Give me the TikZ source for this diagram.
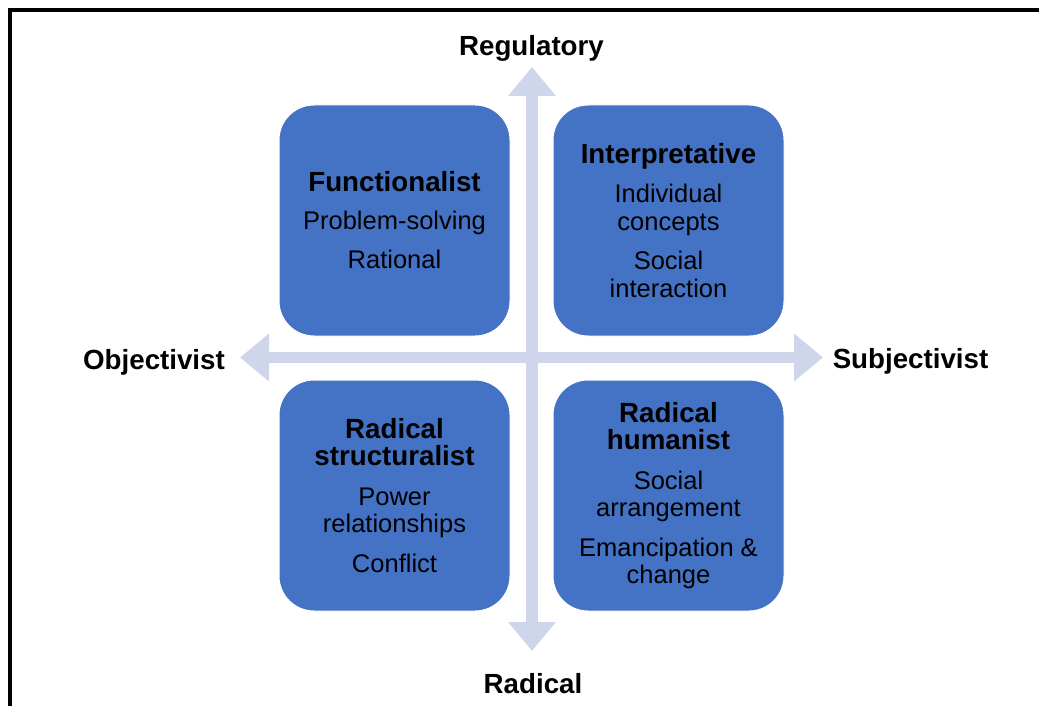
\documentclass[tikz,border=0pt]{standalone}
\usepackage{fontspec}
\setmainfont{Liberation Sans}
\usetikzlibrary{arrows.meta}
\definecolor{boxblue}{HTML}{4472C4}
\definecolor{axiscol}{HTML}{CFD5EA}
\newcommand{\ttl}[1]{{\bfseries\fontsize{27.7}{27.5}\selectfont #1}}
\begin{document}
\begin{tikzpicture}[x=1pt,y=-1pt,
  quad/.style={draw=white, line width=1pt, fill=boxblue, rounded corners=35pt,
    minimum width=231pt, minimum height=231pt, align=center, inner sep=0pt,
    font=\fontsize{25.5}{27.5}\selectfont},
  axislabel/.style={font=\bfseries\fontsize{27.7}{30}\selectfont, inner sep=0pt, anchor=base},
  axisarrow/.style={draw=axiscol, line width=11.5pt,
    {Triangle[width=46pt,length=29pt]}-{Triangle[width=46pt,length=29pt]}},
  frame/.style={draw=black, line width=3.5pt}
]
\useasboundingbox (0,0) rectangle (1039,706);
% frame
\coordinate (fbl) at (10,706);
\coordinate (ftl) at (10,10);
\coordinate (ftr) at (1039,10);
\draw[frame] (fbl) -- (ftl) -- (ftr);
% axes
\coordinate (vtop) at (532,67);
\coordinate (vbot) at (532,651);
\coordinate (hleft) at (240,357.5);
\coordinate (hright) at (823,357.5);
\draw[axisarrow] (vtop) -- (vbot);
\draw[axisarrow] (hleft) -- (hright);
% axis labels
\node[axislabel] (reg) at (531.5,56) {Regulatory};
\node[axislabel] (rad) at (533,693) {Radical};
\node[axislabel] (obj) at (154,369) {Objectivist};
\node[axislabel] (subj) at (910.5,368.5) {Subjectivist};
% quadrants
\node[quad] (func) at (394.5,220.5) {\ttl{Functionalist}\\[10pt]Problem-solving\\[12pt]Rational};
\node[quad] (interp) at (668.5,220.5) {\ttl{Interpretative}\\[12pt]Individual\\concepts\\[12pt]Social\\interaction};
\node[quad] (rstruct) at (394.5,495.5) {\ttl{Radical}\\\ttl{structuralist}\\[12pt]Power\\relationships\\[12pt]Conflict};
\node[quad] (rhum) at (668.5,495.5) {\ttl{Radical}\\\ttl{humanist}\\[12pt]Social\\arrangement\\[12pt]Emancipation \&\\change};
\end{tikzpicture}
\end{document}
